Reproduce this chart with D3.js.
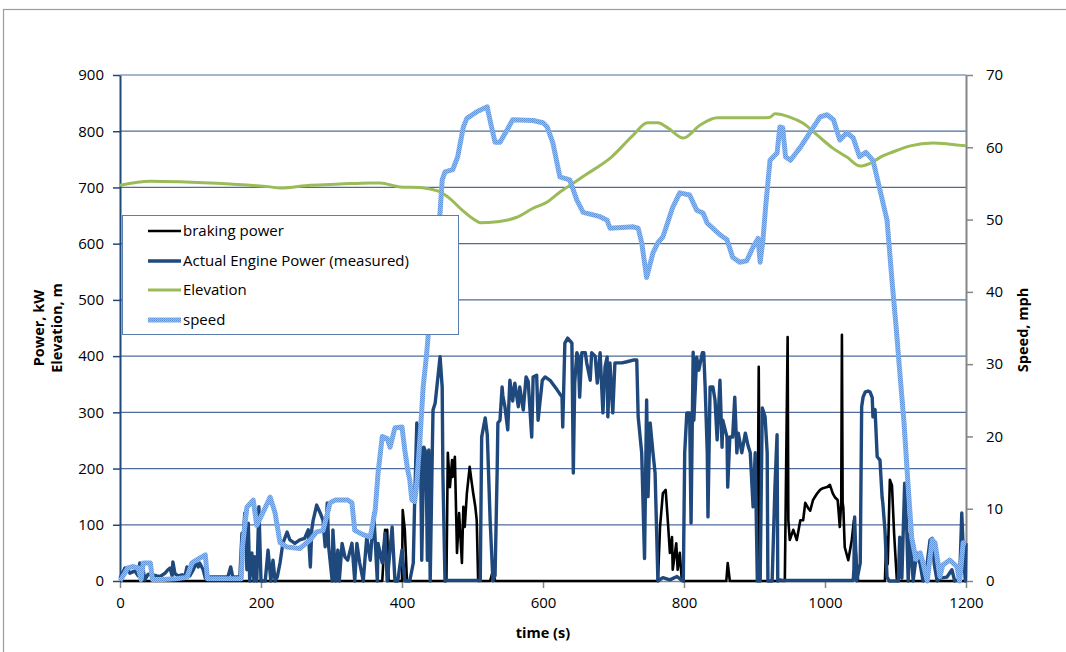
<!DOCTYPE html>
<html>
<head>
<meta charset="utf-8">
<script src="https://cdn.jsdelivr.net/npm/d3@7"></script>
<style>
  html, body { margin: 0; padding: 0; background: #fff; }
  svg { display: block; font-family: "Open Sans", "Noto Sans", "Liberation Sans", sans-serif; }
</style>
</head>
<body>
<svg id="chart" width="1066" height="652"></svg>
<script>
// ---- tick labels ----
const xTicks = [0, 200, 400, 600, 800, 1000, 1200];
const leftTicks = [0, 100, 200, 300, 400, 500, 600, 700, 800, 900];
const rightTicks = [0, 10, 20, 30, 40, 50, 60, 70];

// ---- series names ----
const seriesNames = ["braking power", "Actual Engine Power (measured)", "Elevation", "speed"];

// ---- series values: [time (s), value] ----
const brakingPower = [
  [0,0],[370,0],[372,0],[376,91],[378,50],[379,91],[381,0],[400,0],[401,126],[404,91],[407,0],
  [463,0],[465,228],[468,167],[471,215],[472,185],[475,221],[478,50],[481,121],[485,32],[487,132],
  [489,96],[492,156],[496,203],[499,174],[501,156],[504,132],[506,108],[508,0],[525,0],[528,14],
  [529,25],[532,0],[763,0],[766,96],[770,156],[774,162],[777,108],[780,50],[783,78],[784,20],
  [789,67],[791,20],[794,50],[797,0],[860,0],[862,32],[865,0],[904,0],[906,381],[908,0],
  [943,0],[944,108],[947,434],[948,108],[950,73],[955,91],[960,73],[965,108],[969,108],[972,139],
  [976,130],[979,125],[983,144],[989,156],[993,162],[997,165],[1003,167],[1007,171],[1011,156],
  [1014,149],[1018,144],[1021,96],[1023,140],[1024,438],[1025,140],[1026,130],[1028,60],[1033,37],
  [1038,73],[1041,108],[1045,25],[1047,0],[1085,0],[1087,78],[1089,30],[1092,180],[1095,170],
  [1098,85],[1102,0],[1200,0]
];

const enginePower = [
  [0,5],[7,23],[11,20],[14,14],[21,18],[26,9],[28,32],[33,20],[35,2],[40,12],[47,11],[52,9],[57,8],
  [64,14],[68,20],[71,23],[74,9],[75,34],[78,13],[82,9],[88,11],[92,8],[95,25],[99,9],[104,20],
  [108,32],[111,25],[113,32],[118,20],[121,5],[125,7],[153,7],[157,25],[160,7],[170,7],[173,85],
  [174,60],[177,121],[180,20],[182,103],[184,0],[187,50],[190,0],[191,43],[194,0],[197,132],[200,0],
  [206,0],[210,55],[214,0],[217,37],[220,0],[223,7],[227,32],[231,67],[237,87],[241,73],[248,67],
  [255,73],[262,76],[267,91],[270,25],[272,91],[274,108],[279,135],[284,121],[288,108],[291,61],
  [294,139],[296,61],[301,0],[302,91],[306,0],[309,55],[311,0],[315,67],[319,43],[323,37],[329,67],
  [333,0],[336,67],[340,32],[345,0],[350,78],[355,37],[360,121],[365,0],[366,67],[372,32],[376,85],
  [379,0],[386,96],[390,0],[394,0],[400,55],[404,0],[411,0],[416,32],[418,144],[421,281],[426,265],
  [428,37],[431,238],[434,228],[436,37],[438,233],[440,0],[443,233],[444,304],[447,316],[454,399],
  [457,345],[458,192],[461,0],[465,1],[490,1],[511,1],[513,256],[518,290],[521,260],[525,108],
  [529,0],[532,10],[535,197],[536,281],[539,286],[542,345],[543,330],[546,310],[550,269],[553,357],
  [557,320],[560,352],[565,310],[567,345],[572,304],[576,363],[579,355],[584,256],[586,363],[591,366],
  [593,286],[599,357],[603,363],[610,357],[620,340],[627,327],[628,274],[631,423],[635,432],[641,423],
  [643,192],[645,352],[648,406],[650,400],[652,327],[655,406],[660,406],[662,388],[667,357],[669,406],
  [674,400],[677,352],[681,406],[685,299],[688,381],[691,398],[692,292],[695,388],[699,299],[702,388],
  [706,388],[712,388],[719,390],[728,393],[733,393],[735,292],[740,228],[744,40],[747,322],[749,150],
  [752,281],[756,228],[759,192],[763,0],[770,6],[780,2],[790,8],[797,1],[799,0],[801,228],[804,299],
  [808,299],[810,103],[813,407],[814,286],[818,398],[821,375],[826,406],[828,406],[830,345],[833,228],
  [834,114],[837,345],[841,345],[844,322],[847,251],[851,357],[854,238],[855,286],[861,256],[862,167],
  [865,256],[869,256],[872,327],[875,228],[877,263],[882,228],[887,263],[891,240],[894,228],[898,132],
  [901,228],[904,0],[908,0],[911,308],[915,292],[918,228],[919,0],[925,0],[929,167],[932,260],[933,0],
  [936,2],[940,1],[990,1],[1040,1],[1041,20],[1042,114],[1045,0],[1050,32],[1052,310],[1054,327],
  [1057,336],[1061,338],[1064,336],[1067,326],[1068,292],[1071,305],[1074,221],[1078,215],[1081,149],
  [1082,139],[1085,91],[1088,7],[1091,0],[1104,0],[1106,78],[1109,5],[1113,174],[1116,91],[1118,0],
  [1121,85],[1125,0],[1130,50],[1135,30],[1139,0],[1145,32],[1149,73],[1152,76],[1155,30],[1159,0],
  [1163,5],[1173,7],[1180,20],[1184,0],[1191,3],[1194,121],[1196,60],[1199,0],[1200,67]
];

const elevation = [
  [0,704],[43,711],[85,710],[156,706],[213,701],[227,699],[270,704],[312,706],[355,708],[369,708],
  [397,701],[426,700],[440,697],[454,692],[468,680],[485,660],[506,640],[511,637],[535,639],[550,642],
  [563,647],[586,663],[606,674],[620,688],[635,701],[660,722],[697,754],[728,793],[748,815],[763,815],
  [777,806],[799,788],[823,811],[847,824],[912,824],[922,825],[929,831],[950,825],[969,814],[989,793],
  [1011,770],[1031,754],[1050,738],[1064,743],[1082,756],[1096,763],[1121,774],[1153,779],[1177,777],
  [1200,774]
];

const speed = [
  [0,0],[7,1.1],[11,1.8],[18,2],[26,1.8],[30,0.2],[33,2.5],[43,2.5],[46,0.2],[60,0.2],[80,0.3],
  [95,0.5],[102,2.5],[110,3],[121,3.6],[124,0.3],[150,0.3],[172,0.3],[174,5],[180,10.2],[189,11.2],
  [194,7.7],[201,9.1],[213,11.6],[220,9.4],[227,5.3],[237,4.7],[255,4.5],[270,5.7],[279,6.8],[288,7],
  [298,10.8],[305,11.2],[323,11.2],[329,10.8],[333,7],[345,6.4],[355,6.1],[362,9.8],[366,14.9],
  [372,20],[379,19.7],[383,18.5],[390,21.2],[400,21.3],[404,18.1],[408,15.4],[411,14],[414,11.2],
  [418,11],[421,13.5],[426,20.5],[430,26.8],[435,31.5],[437,33.8],[440,37],[447,45],[454,51],
  [457,55.5],[461,56.6],[472,56.9],[479,58.7],[487,62.8],[492,64],[506,64.9],[521,65.6],[522,65],
  [528,62.4],[532,60.7],[539,60.7],[549,62.4],[557,63.8],[586,63.7],[600,63.4],[606,62.8],[614,60.6],
  [624,55.9],[638,55.5],[648,52.7],[657,51],[681,50.4],[691,49.9],[695,48.8],[728,49],[735,48.8],
  [740,46.8],[747,42],[756,45.4],[763,46.8],[770,47.6],[784,51.7],[794,53.7],[808,53.4],[818,51.3],
  [827,50.9],[833,49.5],[851,47.9],[861,47.2],[869,44.8],[879,44.1],[889,44.3],[898,46.2],[905,47.4],
  [908,44.1],[912,47.2],[916,52],[922,58.2],[932,59.2],[936,62.8],[940,62.7],[944,58.7],[951,58.2],
  [965,60],[979,62.1],[993,64.2],[1003,64.5],[1012,63.8],[1021,61],[1031,62],[1040,61.3],[1049,58.7],
  [1058,59.3],[1068,58.2],[1077,54.5],[1088,49.9],[1095,41.6],[1101,35],[1106,29],[1112,22],
  [1118,13],[1123,6],[1129,3],[1135,3.9],[1139,2.5],[1145,0],[1152,5.7],[1156,5.3],[1163,0.6],
  [1167,2.2],[1177,2.9],[1187,2],[1191,0],[1196,5.3],[1200,5.3]
];

// ---- drawing ----
const svg = d3.select("#chart");
const W = 1066, H = 652;
const plot = { left: 120, right: 966, top: 75, bottom: 581 };
const FONT = "'Open Sans', 'Noto Sans', sans-serif";

const x = d3.scaleLinear().domain([0, 1200]).range([plot.left, plot.right]);
const yL = d3.scaleLinear().domain([0, 900]).range([plot.bottom, plot.top]);
const yR = d3.scaleLinear().domain([0, 70]).range([plot.bottom, plot.top]);

// outer chart frame
svg.append("rect").attr("x", 3.5).attr("y", 9.5).attr("width", W + 10).attr("height", H + 10)
  .attr("fill", "#fff").attr("stroke", "#9c9c9c").attr("stroke-width", 1.2);

// pattern for speed line texture
const defs = svg.append("defs");
const pat = defs.append("pattern").attr("id", "speedPat").attr("patternUnits", "userSpaceOnUse")
  .attr("width", 2).attr("height", 2);
pat.append("rect").attr("width", 2).attr("height", 2).attr("fill", "#9cbdea");
pat.append("rect").attr("width", 1).attr("height", 1).attr("fill", "#5e93d8");
pat.append("rect").attr("x", 1).attr("y", 1).attr("width", 1).attr("height", 1).attr("fill", "#6c9cdc");

// gridlines
svg.append("g").selectAll("line").data(leftTicks.filter(d => d > 0)).join("line")
  .attr("x1", plot.left).attr("x2", plot.right)
  .attr("y1", d => yL(d)).attr("y2", d => yL(d))
  .attr("stroke", "#4d6c9c").attr("stroke-width", 1.2);

function styleTicks(ax) {
  ax.selectAll(".tick text").attr("font-size", 15).attr("fill", "#000").attr("font-family", FONT);
}

// left axis
const axL = svg.append("g").attr("transform", `translate(${plot.left},0)`)
  .call(d3.axisLeft(yL).tickValues(leftTicks).tickSize(7).tickPadding(9).tickSizeOuter(0));
axL.select(".domain").attr("stroke", "#1f497d").attr("stroke-width", 2);
axL.selectAll(".tick line").attr("stroke", "#1f497d").attr("stroke-width", 1.5);
styleTicks(axL);

// right axis
const axR = svg.append("g").attr("transform", `translate(${plot.right},0)`)
  .call(d3.axisRight(yR).tickValues(rightTicks).tickSize(7).tickPadding(13).tickSizeOuter(0));
axR.select(".domain").attr("stroke", "#868686").attr("stroke-width", 2);
axR.selectAll(".tick line").attr("stroke", "#868686").attr("stroke-width", 1.5);
styleTicks(axR);

// bottom axis
const axB = svg.append("g").attr("transform", `translate(0,${plot.bottom})`)
  .call(d3.axisBottom(x).tickValues(xTicks).tickFormat(d3.format("d")).tickSize(7).tickPadding(9).tickSizeOuter(0));
axB.select(".domain").attr("stroke", "#868686").attr("stroke-width", 1.5);
axB.selectAll(".tick line").attr("stroke", "#868686").attr("stroke-width", 1.5);
styleTicks(axB);

// series
const lineL = d3.line().x(d => x(d[0])).y(d => yL(d[1]));
const lineR = d3.line().x(d => x(d[0])).y(d => yR(d[1]));

svg.append("path").datum(brakingPower).attr("d", lineL)
  .attr("fill", "none").attr("stroke", "#000").attr("stroke-width", 2.6).attr("stroke-linejoin", "round");
svg.append("path").datum(enginePower).attr("d", lineL)
  .attr("fill", "none").attr("stroke", "#1f497d").attr("stroke-width", 3.4).attr("stroke-linejoin", "round");
svg.append("path").datum(elevation).attr("d", d3.line().x(d => x(d[0])).y(d => yL(d[1])).curve(d3.curveMonotoneX))
  .attr("fill", "none").attr("stroke", "#9bbb59").attr("stroke-width", 3).attr("stroke-linejoin", "round");
svg.append("path").datum(speed).attr("d", lineR)
  .attr("fill", "none").attr("stroke", "url(#speedPat)").attr("stroke-width", 5).attr("stroke-linejoin", "round");

// legend
const lg = svg.append("g");
lg.append("rect").attr("x", 122.5).attr("y", 215.5).attr("width", 336).attr("height", 119)
  .attr("fill", "#fff").attr("stroke", "#5a7db0").attr("stroke-width", 1);
const legendStyles = [
  { stroke: "#000", w: 2.6 },
  { stroke: "#1f497d", w: 3.4 },
  { stroke: "#9bbb59", w: 3 },
  { stroke: "url(#speedPat)", w: 5 }
];
const legendY = [231, 261, 290, 320];
seriesNames.forEach((name, i) => {
  lg.append("line").attr("x1", 148).attr("x2", 181).attr("y1", legendY[i]).attr("y2", legendY[i])
    .attr("stroke", legendStyles[i].stroke).attr("stroke-width", legendStyles[i].w);
  lg.append("text").attr("x", 183).attr("y", legendY[i]).attr("dy", "0.35em")
    .attr("font-size", 15).attr("fill", "#000").attr("font-family", FONT).text(name);
});

// axis titles
const titleFont = 14.5;
svg.append("text").attr("x", 543).attr("y", 638).attr("text-anchor", "middle")
  .attr("font-size", titleFont).attr("font-weight", "bold").attr("font-family", FONT).text("time (s)");
svg.append("text").attr("transform", "translate(44,328) rotate(-90)").attr("text-anchor", "middle")
  .attr("font-size", titleFont).attr("font-weight", "bold").attr("font-family", FONT).text("Power, kW");
svg.append("text").attr("transform", "translate(62,328) rotate(-90)").attr("text-anchor", "middle")
  .attr("font-size", titleFont).attr("font-weight", "bold").attr("font-family", FONT).text("Elevation, m");
svg.append("text").attr("transform", "translate(1028,330) rotate(-90)").attr("text-anchor", "middle")
  .attr("font-size", titleFont).attr("font-weight", "bold").attr("font-family", FONT).text("Speed, mph");
</script>
</body>
</html>
